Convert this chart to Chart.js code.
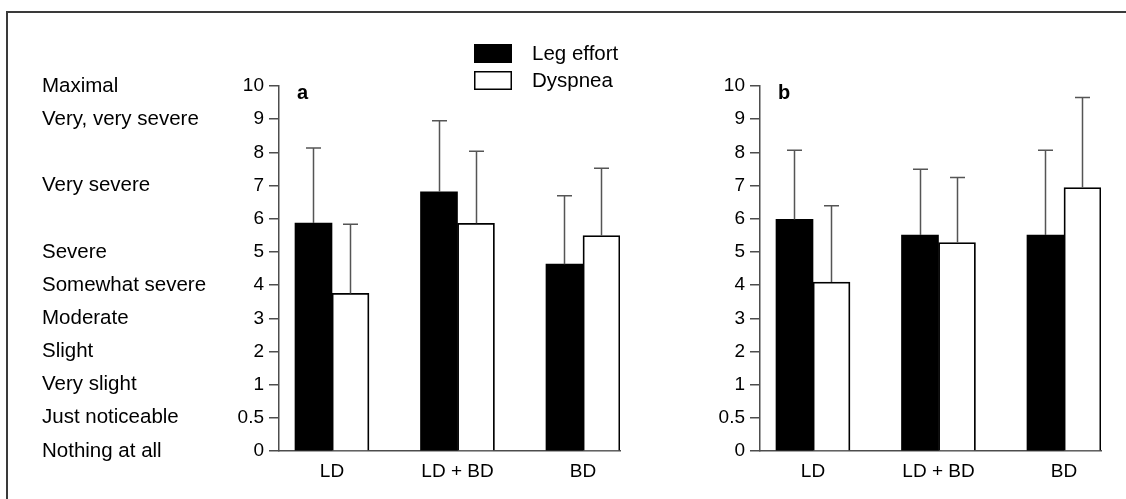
<!DOCTYPE html>
<html>
<head>
<meta charset="utf-8">
<script src="https://cdn.jsdelivr.net/npm/chart.js@4/dist/chart.umd.min.js"></script>
<style>
  html, body { margin: 0; padding: 0; background: #fff; }
  #wrap { position: relative; width: 1126px; height: 499px; overflow: hidden; }
  #frame { position: absolute; left: 6px; top: 11px; width: 1140px; height: 520px;
           border-top: 2px solid #3a3a3a; border-left: 2px solid #3a3a3a; }
  #panelA { position: absolute; left: 0; top: 0; }
  #panelB { position: absolute; left: 650px; top: 0; }
</style>
</head>
<body>
<div id="wrap">
  <div id="frame"></div>
  <canvas id="panelA" width="650" height="499"></canvas>
  <canvas id="panelB" width="476" height="499"></canvas>
</div>
<script>
// Группы и шкала Борга
const groups = ['LD', 'LD + BD', 'BD'];
const yTickLabels = ['0', '0.5', '1', '2', '3', '4', '5', '6', '7', '8', '9', '10'];
const borgWords = ['Maximal', 'Very, very severe', 'Very severe', 'Severe', 'Somewhat severe',
  'Moderate', 'Slight', 'Very slight', 'Just noticeable', 'Nothing at all'];
const borgWordValues = [10, 9, 7, 5, 4, 3, 2, 1, 0.5, 0];
const seriesNames = ['Leg effort', 'Dyspnea'];

// Панель a: средние и SD
const legEffortA = [5.87, 6.81, 4.63];
const legEffortSdA = [2.26, 2.14, 2.06];
const dyspneaA = [3.75, 5.86, 5.49];
const dyspneaSdA = [2.08, 2.17, 2.03];

// Панель b
const legEffortB = [5.98, 5.51, 5.51];
const legEffortSdB = [2.08, 1.98, 2.55];
const dyspneaB = [4.09, 5.28, 6.94];
const dyspneaSdB = [2.30, 1.96, 2.71];

const FONT = '"Liberation Sans", Arial, Helvetica, sans-serif';
const AXIS_COLOR = '#4d4d4d';

// шаг 0–0.5–1 растянут: каждая метка шкалы занимает одно деление
function borgToPos(v) {
  return v <= 1 ? v * 2 : v + 1;
}

// планки погрешностей (только вверх)
const errorBars = {
  id: 'errorBars',
  afterDatasetsDraw(chart) {
    const ctx = chart.ctx;
    const yScale = chart.scales.y;
    ctx.save();
    ctx.strokeStyle = '#555';
    ctx.lineWidth = 1.5;
    chart.data.datasets.forEach((ds, di) => {
      const meta = chart.getDatasetMeta(di);
      meta.data.forEach((bar, i) => {
        const top = yScale.getPixelForValue(borgToPos(ds.means[i] + ds.sd[i]));
        const x = Math.round(bar.x) + 0.5;
        ctx.beginPath();
        ctx.moveTo(x, bar.y);
        ctx.lineTo(x, top);
        ctx.moveTo(x - 7.5, top);
        ctx.lineTo(x + 7.5, top);
        ctx.stroke();
      });
    });
    ctx.restore();
  }
};

// буква панели
const panelLetter = {
  id: 'panelLetter',
  afterDraw(chart, args, opts) {
    const ctx = chart.ctx;
    ctx.save();
    ctx.font = 'bold 20px ' + FONT;
    ctx.fillStyle = '#000';
    ctx.textBaseline = 'middle';
    ctx.fillText(opts.text, chart.chartArea.left + 18, 93);
    ctx.restore();
  }
};

// словесные градации слева от оси
const borgText = {
  id: 'borgText',
  afterDraw(chart) {
    const ctx = chart.ctx;
    const yScale = chart.scales.y;
    ctx.save();
    ctx.font = '20.5px ' + FONT;
    ctx.fillStyle = '#000';
    ctx.textAlign = 'left';
    ctx.textBaseline = 'middle';
    borgWords.forEach((w, i) => {
      ctx.fillText(w, 42, yScale.getPixelForValue(borgToPos(borgWordValues[i])));
    });
    ctx.restore();
  }
};

// легенда столбиком
const boxLegend = {
  id: 'boxLegend',
  afterDraw(chart) {
    const ctx = chart.ctx;
    ctx.save();
    ctx.font = '20.5px ' + FONT;
    ctx.textBaseline = 'middle';
    chart.data.datasets.forEach((ds, i) => {
      const y = 44 + i * 27;
      ctx.fillStyle = ds.backgroundColor;
      ctx.fillRect(474, y, 38, 19);
      if (ds.borderWidth) {
        ctx.strokeStyle = ds.borderColor;
        ctx.lineWidth = 1.5;
        ctx.strokeRect(474.75, y + 0.75, 36.5, 17.5);
      }
      ctx.fillStyle = '#000';
      ctx.fillText(ds.label, 532, y + 10);
    });
    ctx.restore();
  }
};

function makePanel(canvasId, letter, leg, legSd, dysp, dyspSd, yWidth, padRight, extraPlugins) {
  const ctx = document.getElementById(canvasId).getContext('2d');
  return new Chart(ctx, {
    type: 'bar',
    data: {
      datasets: [{
        label: seriesNames[0],
        data: leg.map((v, i) => ({ x: i, y: borgToPos(v) })),
        means: leg,
        sd: legSd,
        backgroundColor: '#000',
        borderWidth: 0
      }, {
        label: seriesNames[1],
        data: dysp.map((v, i) => ({ x: i, y: borgToPos(v) })),
        means: dysp,
        sd: dyspSd,
        backgroundColor: '#fff',
        borderColor: '#000',
        borderWidth: 1.8
      }]
    },
    options: {
      responsive: false,
      animation: false,
      devicePixelRatio: 1,
      barThickness: 37,
      layout: { padding: { top: 86, right: padRight, left: 0, bottom: 0 } },
      plugins: {
        legend: { display: false },
        tooltip: { enabled: false },
        panelLetter: { text: letter }
      },
      scales: {
        x: {
          type: 'linear',
          offset: false,
          min: -0.4223,
          max: 2.295,
          afterBuildTicks: (scale) => { scale.ticks = groups.map((g, i) => ({ value: i })); },
          afterFit: (scale) => { scale.height = 48; },
          grid: { display: false, drawTicks: false, offset: false },
          border: { display: true, color: AXIS_COLOR, width: 1.5 },
          ticks: {
            padding: 9,
            color: '#000',
            font: { family: FONT, size: 19 },
            callback: (v) => groups[v] ?? ''
          }
        },
        y: {
          min: 0,
          max: 11,
          afterBuildTicks: (scale) => { scale.ticks = yTickLabels.map((t, i) => ({ value: i })); },
          afterFit: (scale) => { scale.width = yWidth; },
          grid: { display: true, drawOnChartArea: false, drawTicks: true, tickLength: 10,
                  color: AXIS_COLOR, lineWidth: 1.5 },
          border: { display: true, color: AXIS_COLOR, width: 1.5 },
          ticks: {
            padding: 5,
            color: '#000',
            font: { family: FONT, size: 19 },
            callback: (v) => yTickLabels[v] ?? ''
          }
        }
      }
    },
    plugins: [errorBars, panelLetter].concat(extraPlugins)
  });
}

makePanel('panelA', 'a', legEffortA, legEffortSdA, dyspneaA, dyspneaSdA, 279, 30, [borgText, boxLegend]);
makePanel('panelB', 'b', legEffortB, legEffortSdB, dyspneaB, dyspneaSdB, 110, 25, []);
</script>
</body>
</html>
